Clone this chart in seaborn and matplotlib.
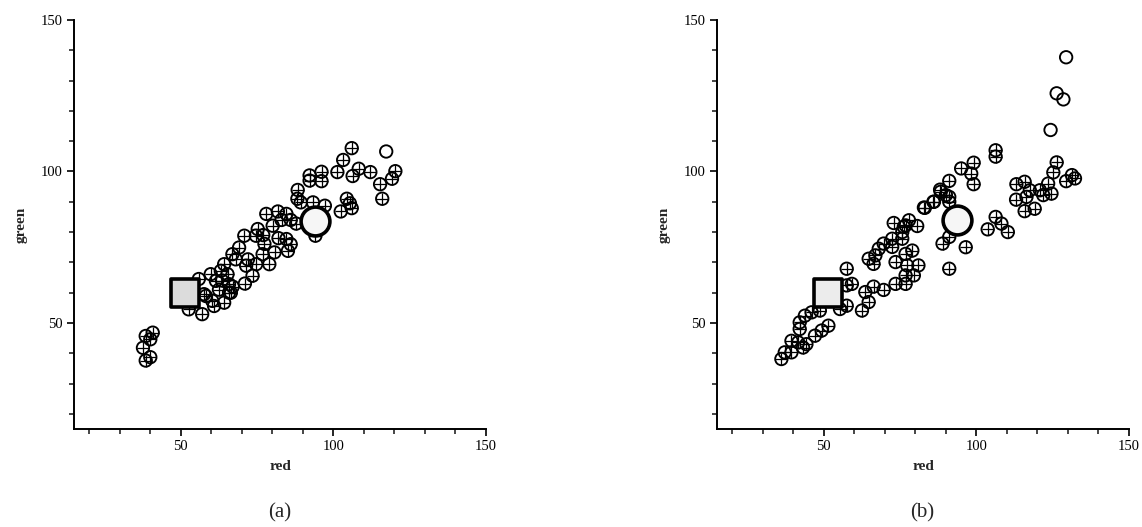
import matplotlib
matplotlib.use("Agg")
import matplotlib.pyplot as plt
import seaborn as sns
import pandas as pd
from matplotlib.ticker import MultipleLocator

# ---------------- data ----------------
a_plus_red = [38.5, 40.8, 40.0, 37.6, 38.5, 40.0,
              106.0, 103.2, 92.2, 96.1, 92.2, 96.1, 101.3, 108.3, 106.3, 112.1, 120.3, 119.2,
              115.3, 116.0, 104.4, 102.4, 106.0, 105.4,
              88.3, 88.2, 89.3, 93.3, 97.2, 94.1, 87.8,
              78.0, 81.8, 84.6, 80.1, 75.2, 70.8, 74.6, 84.6, 85.1, 80.7, 77.4, 76.8, 79.0,
              71.4, 74.7, 73.5, 71.0, 66.9, 69.1, 64.2, 63.1, 65.3, 59.8, 61.5, 65.8, 65.8,
              55.9, 57.6, 60.3, 64.2, 60.9, 57.0, 52.6,
              83.0, 86.0, 82.0, 62.5, 63.5, 67.0, 58.2, 66.4, 68.0, 72.0, 77.0, 86.0]
a_plus_green = [45.7, 46.8, 44.6, 41.8, 37.6, 38.7,
                107.7, 103.8, 98.7, 99.9, 97.0, 96.8, 99.8, 100.9, 98.5, 99.8, 100.1, 97.6,
                95.8, 91.0, 91.0, 86.8, 87.9, 89.5,
                93.9, 91.0, 89.8, 89.8, 88.7, 78.8, 82.8,
                86.0, 86.8, 86.0, 82.1, 81.0, 78.8, 78.8, 77.7, 73.8, 73.3, 76.1, 72.7, 69.4,
                68.9, 69.4, 65.6, 63.0, 72.7, 74.9, 69.4, 67.2, 66.1, 66.1, 63.9, 62.8, 60.0,
                64.5, 59.5, 57.3, 56.7, 55.6, 52.9, 54.5,
                84.0, 84.0, 78.0, 61.0, 64.0, 62.0, 58.9, 60.0, 71.0, 71.0, 79.0, 76.0]
a_open_red = [117.3]
a_open_green = [106.6]
a_circle_red, a_circle_green = [94.1], [83.8]
a_square_red, a_square_green = [51.5], [60.0]

b_plus_red = [36.1, 37.2, 39.4, 43.2, 44.3, 41.6, 39.4, 47.1, 49.3, 51.5, 42.1, 42.1, 43.8, 46.0, 48.7,
              55.3, 57.5, 57.5, 59.2, 57.5, 62.5, 64.7, 63.6, 66.3, 69.6, 73.5, 76.8, 76.8, 79.5,
              81.0, 77.3, 73.5, 76.8, 79.0, 91.1, 64.7, 66.9, 66.3, 68.0, 69.6, 72.4, 72.4, 75.7,
              75.7, 72.9, 77.9, 76.8, 80.6, 82.8, 86.1, 88.3, 91.1, 88.9, 91.1,
              106.3, 106.3, 99.1, 95.0, 98.3, 99.1, 91.1, 88.1, 90.0, 91.1, 85.9, 83.1, 76.2,
              106.3, 108.2, 110.3, 103.7, 96.5,
              113.1, 115.8, 117.5, 116.4, 113.0, 115.8, 119.1, 120.8, 121.9, 124.6, 123.5, 125.2,
              126.3, 129.4, 131.3, 132.3]
b_plus_green = [38.1, 40.3, 40.3, 41.9, 43.0, 43.6, 44.1, 45.8, 47.5, 49.1, 48.0, 50.2, 52.4, 53.5, 54.1,
                54.6, 55.7, 62.4, 62.9, 67.9, 54.1, 56.9, 60.2, 62.0, 60.9, 62.9, 62.9, 65.7, 65.7,
                69.0, 69.0, 70.1, 72.8, 73.9, 67.9, 71.2, 72.3, 69.5, 74.5, 76.2, 77.8, 75.1, 77.8,
                80.0, 83.0, 83.9, 82.2, 82.0, 88.1, 90.0, 93.3, 91.6, 76.2, 78.4,
                107.0, 104.9, 102.9, 101.0, 99.3, 95.8, 96.9, 94.0, 92.2, 90.0, 90.0, 88.0, 81.7,
                85.0, 82.8, 80.0, 80.9, 75.0,
                95.8, 96.6, 93.8, 91.6, 90.7, 86.9, 87.7, 93.8, 92.2, 92.7, 96.0, 99.7,
                103.0, 96.8, 98.8, 97.7]
b_open_red = [129.4, 126.3, 128.5, 124.3]
b_open_green = [137.7, 125.8, 123.8, 113.7]
b_circle_red, b_circle_green = [93.8], [84.0]
b_square_red, b_square_green = [51.5], [60.0]

ticks_major = [50, 100, 150]
captions = ["(a)", "(b)"]

# ---------------- plotting ----------------
sns.set_style("ticks")
plt.rcParams['font.family'] = ['Liberation Serif', 'DejaVu Serif']

fig = plt.figure(figsize=(11.42, 5.27), dpi=100)
ax_a = fig.add_axes([74 / 1142, 1 - 429 / 527, 412 / 1142, 409 / 527])
ax_b = fig.add_axes([717 / 1142, 1 - 429 / 527, 412 / 1142, 409 / 527])

panels = [
    (ax_a, a_plus_red, a_plus_green, a_open_red, a_open_green,
     a_circle_red, a_circle_green, a_square_red, a_square_green, '#dcdcdc'),
    (ax_b, b_plus_red, b_plus_green, b_open_red, b_open_green,
     b_circle_red, b_circle_green, b_square_red, b_square_green, '#ececec'),
]

for i, (ax, pr, pg, orr, og, cr, cg, sr, sg, sqcol) in enumerate(panels):
    dplus = pd.DataFrame({'red': pr, 'green': pg})
    dopen = pd.DataFrame({'red': orr, 'green': og})
    dcirc = pd.DataFrame({'red': cr, 'green': cg})
    dsq = pd.DataFrame({'red': sr, 'green': sg})

    sns.scatterplot(data=dplus, x='red', y='green', ax=ax, marker='o', s=80,
                    facecolor='none', edgecolor='black', linewidth=1.35, zorder=3)
    sns.scatterplot(data=dplus, x='red', y='green', ax=ax, marker='+', s=80,
                    color='black', linewidth=0.9, zorder=3)
    sns.scatterplot(data=dopen, x='red', y='green', ax=ax, marker='o', s=80,
                    facecolor='none', edgecolor='black', linewidth=1.35, zorder=3)
    sns.scatterplot(data=dsq, x='red', y='green', ax=ax, marker='s', s=400,
                    facecolor=sqcol, edgecolor='black', linewidth=2.6, zorder=5)
    sns.scatterplot(data=dcirc, x='red', y='green', ax=ax, marker='o', s=430,
                    facecolor='#f6f6f6', edgecolor='black', linewidth=2.6, zorder=5)

    ax.set_xlim(15, 150)
    ax.set_ylim(15, 150)
    ax.set_xticks(ticks_major)
    ax.set_yticks(ticks_major)
    ax.xaxis.set_minor_locator(MultipleLocator(10))
    ax.yaxis.set_minor_locator(MultipleLocator(10))
    ax.tick_params(which='major', length=5, width=1.2, labelsize=10.5, colors='black', pad=3)
    ax.tick_params(which='minor', length=3.5, width=1.2)
    sns.despine(ax=ax)
    for sp in ['left', 'bottom']:
        ax.spines[sp].set_linewidth(1.4)
        ax.spines[sp].set_color('black')
    ax.set_xlabel('red', fontsize=11, fontweight='bold')
    ax.set_ylabel('green', fontsize=11, fontweight='bold')
    ax.xaxis.set_label_coords(0.5, -0.075)
    ax.yaxis.set_label_coords(-0.112, 0.5)
    ax.grid(False)

fig.text(280 / 1142, 1 - 513 / 527, captions[0], ha='center', va='center', fontsize=15)
fig.text(922 / 1142, 1 - 513 / 527, captions[1], ha='center', va='center', fontsize=15)

fig.savefig('out.png', dpi=100, facecolor='white')
